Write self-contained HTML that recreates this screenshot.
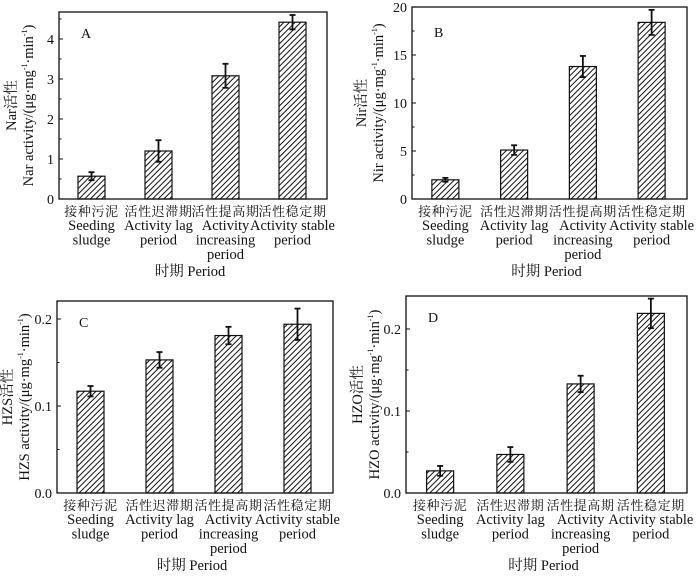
<!DOCTYPE html>
<html><head><meta charset="utf-8"><style>
html,body{margin:0;padding:0;background:#fff;}
svg text{font-family:"Liberation Serif","Noto Serif CJK SC","Noto Sans CJK SC",serif;fill:#111;}
</style></head><body>
<svg id="fig" width="700" height="571" viewBox="0 0 700 571" xmlns="http://www.w3.org/2000/svg">
<defs>
<pattern id="hatch" patternUnits="userSpaceOnUse" width="4" height="4" patternTransform="rotate(45)">
<rect width="4" height="4" fill="#fff"/>
<line x1="0" y1="0" x2="0" y2="4" stroke="#111" stroke-width="2"/>
</pattern>
</defs>
</svg>
<script>
const categoriesCN = ["接种污泥","活性迟滞期","活性提高期","活性稳定期"];
const categoriesEN = [["Seeding","sludge"],["Activity lag","period"],["Activity","increasing","period"],["Activity stable","period"]];
const narValues = [0.57, 1.2, 3.08, 4.42];
const narErrors = [0.1, 0.27, 0.3, 0.18];
const narTicks = ["0","1","2","3","4"];
const nirValues = [2.0, 5.1, 13.8, 18.4];
const nirErrors = [0.2, 0.5, 1.1, 1.3];
const nirTicks = ["0","5","10","15","20"];
const hzsValues = [0.117, 0.153, 0.181, 0.194];
const hzsErrors = [0.006, 0.009, 0.01, 0.018];
const hzsTicks = ["0.0","0.1","0.2"];
const hzoValues = [0.027, 0.047, 0.133, 0.219];
const hzoErrors = [0.006, 0.009, 0.01, 0.018];
const hzoTicks = ["0.0","0.1","0.2"];

const svg = document.getElementById('fig');
const NS = "http://www.w3.org/2000/svg";
function mk(tag, attrs, parent){const e=document.createElementNS(NS,tag);for(const k in attrs)e.setAttribute(k,attrs[k]);(parent||svg).appendChild(e);return e;}

function panel(cfg){
  const g = mk('g',{});
  
  
  const {L,R,T,B,ymax,values,errors,ticks,tickStep} = cfg;
  const y = v => B - (v/ymax)*(B-T);
  const slot = (R-L)/4;
  const xc = i => L + slot*(i+0.5) - 1;
  ticks.forEach((t,i)=>{
    const v = i*tickStep, yy = y(v);
    const tk = mk('line',{x1:L,x2:L+4,y1:yy,y2:yy,stroke:'#111','stroke-width':1},g);
    
    
    const tl = mk('text',{x:L-5,y:yy+5,'text-anchor':'end','font-size':14},g);
    tl.textContent = t;
    
    
    const mv = v + tickStep/2;
    if (mv <= ymax){ const my=y(mv); mk('line',{x1:L,x2:L+2.5,y1:my,y2:my,stroke:'#111','stroke-width':1},g); }
  });
  values.forEach((v,i)=>{
    const bw = 27, cx = xc(i);
    const r = mk('rect',{x:cx-bw/2,y:y(v),width:bw,height:B-y(v),fill:'url(#hatch)',stroke:'#111','stroke-width':1.2},g);
    
    
    const e = errors[i];
    const eg = mk('g',{stroke:'#111','stroke-width':1.8},g);
    
    
    mk('line',{x1:cx,x2:cx,y1:y(v+e),y2:y(v-e)},eg);
    mk('line',{x1:cx-3,x2:cx+3,y1:y(v+e),y2:y(v+e)},eg);
    mk('line',{x1:cx-3,x2:cx+3,y1:y(v-e),y2:y(v-e)},eg);
    const cn = mk('text',{x:cx,y:B+17,'text-anchor':'middle','font-size':13,'letter-spacing':'0.6'},g);
    cn.textContent = categoriesCN[i];
    
    
    categoriesEN[i].forEach((s,j)=>{
      const en = mk('text',{x:cx,y:B+31+j*14.5,'text-anchor':'middle','font-size':14.5},g);
      en.textContent = s;
      
      
    });
  });
  const box = mk('rect',{x:L,y:T,width:R-L,height:B-T,fill:'none',stroke:'#111','stroke-width':1.3},g);
  
  
  const lab = mk('text',{x:L+22,y:T+(cfg.labelDy||26),'font-size':14},g);
  lab.textContent = cfg.id;
  
  
  const xt = mk('text',{x:(L+R)/2-3,y:B+77,'text-anchor':'middle','font-size':14.5},g);
  xt.textContent = '时期 Period';
  
  
  const ymid = (T+B)/2;
  const yt = mk('text',{transform:`translate(${cfg.yx},${ymid}) rotate(-90)`,'text-anchor':'middle','font-size':14.5},g);
  
  
  const t1 = mk('tspan',{x:0,dy:0},yt); t1.textContent = cfg.name+'活性';
  const t2 = mk('tspan',{x:0,dy:17},yt);
  t2.innerHTML = cfg.name+' activity/(μg·mg<tspan font-size="8" dy="-6">-1</tspan><tspan dy="6">·min</tspan><tspan font-size="8" dy="-6">-1</tspan><tspan dy="6">)</tspan>';
}
panel({id:'A',name:'Nar',L:59,R:327,T:12,B:199,ymax:4.675,values:narValues,errors:narErrors,ticks:narTicks,tickStep:1,yx:16});
panel({id:'B',name:'Nir',L:412,R:687,T:7,B:199,ymax:20,values:nirValues,errors:nirErrors,ticks:nirTicks,tickStep:5,yx:366,labelDy:30});
panel({id:'C',name:'HZS',L:57,R:333,T:301,B:493,ymax:0.2207,values:hzsValues,errors:hzsErrors,ticks:hzsTicks,tickStep:0.1,yx:12});
panel({id:'D',name:'HZO',L:406,R:687,T:296,B:493,ymax:0.2402,values:hzoValues,errors:hzoErrors,ticks:hzoTicks,tickStep:0.1,yx:362});
</script>
</body></html>
